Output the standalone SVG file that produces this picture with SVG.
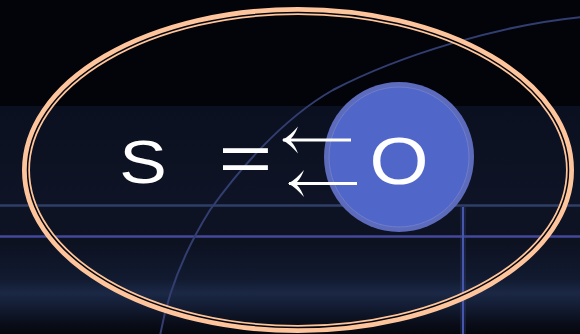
<svg xmlns="http://www.w3.org/2000/svg" width="580" height="334" viewBox="0 0 580 334">
  <defs>
    <linearGradient id="bg" x1="0" y1="0" x2="0" y2="1">
      <stop offset="0" stop-color="#0b1020"/>
      <stop offset="0.4" stop-color="#0e1425"/>
      <stop offset="0.6" stop-color="#0d1221"/>
      <stop offset="0.76" stop-color="#111a30"/>
      <stop offset="0.82" stop-color="#1b2845"/>
      <stop offset="0.88" stop-color="#131c33"/>
      <stop offset="0.95" stop-color="#0a0e1a"/>
      <stop offset="1" stop-color="#05070d"/>
    </linearGradient>
    <marker id="head" markerUnits="userSpaceOnUse" markerWidth="30" markerHeight="30" viewBox="-20 -15 22 30" refX="0" refY="0" orient="auto">
      <path d="M1,0 C-5,-3 -10,-8 -15,-13.5 C-13.5,-9 -11,-4.5 -8,-1.5 L-8,1.5 C-11,4.5 -13.5,9 -15,13.5 C-10,8 -5,3 1,0 Z" fill="#ffffff"/>
    </marker>
    <style>
      .lbl { font-family: "Liberation Sans", Arial, sans-serif; fill: #ffffff; text-anchor: middle; }
      .arrow { stroke: #ffffff; stroke-width: 3; fill: none; marker-end: url(#head); }
    </style>
  </defs>

  <!-- background scene -->
  <rect x="0" y="0" width="580" height="334" fill="#03040a"/>
  <rect x="0" y="106" width="580" height="228" fill="url(#bg)"/>
  <line x1="0" y1="205.5" x2="580" y2="205.5" stroke="#2f3f68" stroke-width="2.5"/>
  <line x1="0" y1="236.5" x2="580" y2="236.5" stroke="#44479a" stroke-width="2.5"/>
  <line x1="463" y1="207" x2="463" y2="334" stroke="#3a4a94" stroke-width="6" opacity="0.25"/>
  <line x1="463" y1="207" x2="463" y2="334" stroke="#4656a8" stroke-width="2"/>
  <path d="M582,17 C500,25 400,55 333,90 C280,120 235,175 210,210 C185,250 168,290 160,336" fill="none" stroke="#323e70" stroke-width="2"/>

  <!-- outer ellipse -->
  <g id="frame">
    <ellipse cx="298" cy="170" rx="272" ry="159" fill="none" stroke="#fec59c" stroke-width="8"/>
    <ellipse cx="298" cy="170" rx="270.5" ry="157.5" fill="none" stroke="#05060a" stroke-width="1.5"/>
  </g>

  <g id="node-O">
    <circle cx="399" cy="157" r="75" fill="#5d6bbd"/>
    <circle cx="399" cy="157" r="70" fill="#5166c9" stroke="#6f7dcb" stroke-width="1"/>
    <text class="lbl" font-size="66" transform="translate(399,184) scale(1.15,1)">O</text>
  </g>

  <g id="node-S">
    <text class="lbl" font-size="62" transform="translate(143,182.5) scale(1.15,1)">S</text>
  </g>

  <g id="node-eq">
    <text class="lbl" font-size="66" transform="translate(245.5,181) scale(1.4,1)">=</text>
  </g>

  <g id="connectors">
    <path class="arrow" d="M351,140 L283,140"/>
    <path class="arrow" d="M357,183.5 L289,183.5"/>
  </g>
</svg>
